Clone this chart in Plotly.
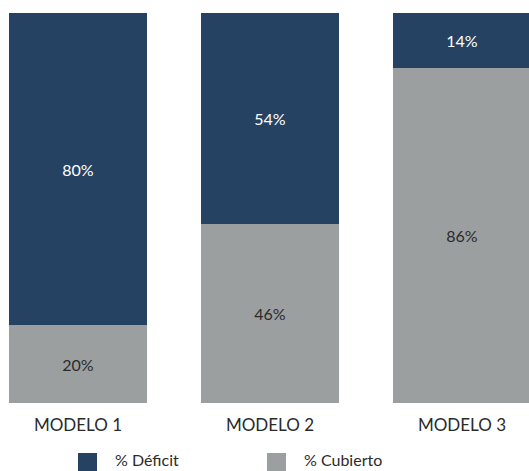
import plotly.graph_objects as go

# Coverage share per model
modelos = ["MODELO 1", "MODELO 2", "MODELO 3"]
cubierto = [20, 46, 86]
deficit = [80, 54, 14]

NAVY = "#264263"
GRAY = "#9c9fa0"
FONT = "Lato"

W, H = 529, 471
M_T, M_B = 13, 68

fig = go.Figure()
fig.add_bar(
    x=modelos, y=cubierto, name="% Cubierto",
    marker=dict(color=GRAY, line=dict(width=0)),
    text=[f"{v}%" for v in cubierto], textposition="inside",
    insidetextanchor="middle",
    textfont=dict(family=FONT, size=16, color="#2b2b2b"),
    showlegend=False,
)
fig.add_bar(
    x=modelos, y=deficit, name="% Déficit",
    marker=dict(color=NAVY, line=dict(width=0)),
    text=[f"{v}%" for v in deficit], textposition="inside",
    insidetextanchor="middle",
    textfont=dict(family=FONT, size=16, color="white"),
    showlegend=False,
)

# Legend drawn as squares + labels below the axis
plot_h = H - M_T - M_B
def py(pixel_y):
    return (H - M_B - pixel_y) / plot_h

legend_items = [("% Déficit", NAVY, 78), ("% Cubierto", GRAY, 267)]
shapes, annotations = [], []
for label, color, x0 in legend_items:
    shapes.append(dict(
        type="rect", xref="paper", yref="paper",
        x0=x0 / W, x1=(x0 + 19) / W, y0=py(472), y1=py(453),
        fillcolor=color, line=dict(width=0),
    ))
    annotations.append(dict(
        text=label, xref="paper", yref="paper",
        x=(x0 + 36) / W, y=py(470), xanchor="left", yanchor="bottom",
        showarrow=False, borderpad=0,
        font=dict(family=FONT, size=16, color="#2b2b2b"),
    ))

fig.update_layout(
    barmode="stack",
    bargap=0.28,
    width=W, height=H,
    margin=dict(l=0, r=0, t=M_T, b=M_B),
    paper_bgcolor="white", plot_bgcolor="white",
    uniformtext=dict(mode="show", minsize=10),
    xaxis=dict(
        type="category", range=[-0.406, 2.349],
        showgrid=False, zeroline=False, showline=False, ticks="",
        tickfont=dict(family=FONT, size=17, color="#2b2b2b"),
        ticklabelstandoff=10,
    ),
    yaxis=dict(range=[0, 100], visible=False),
    shapes=shapes,
    annotations=annotations,
)

fig.write_html("out.html")
